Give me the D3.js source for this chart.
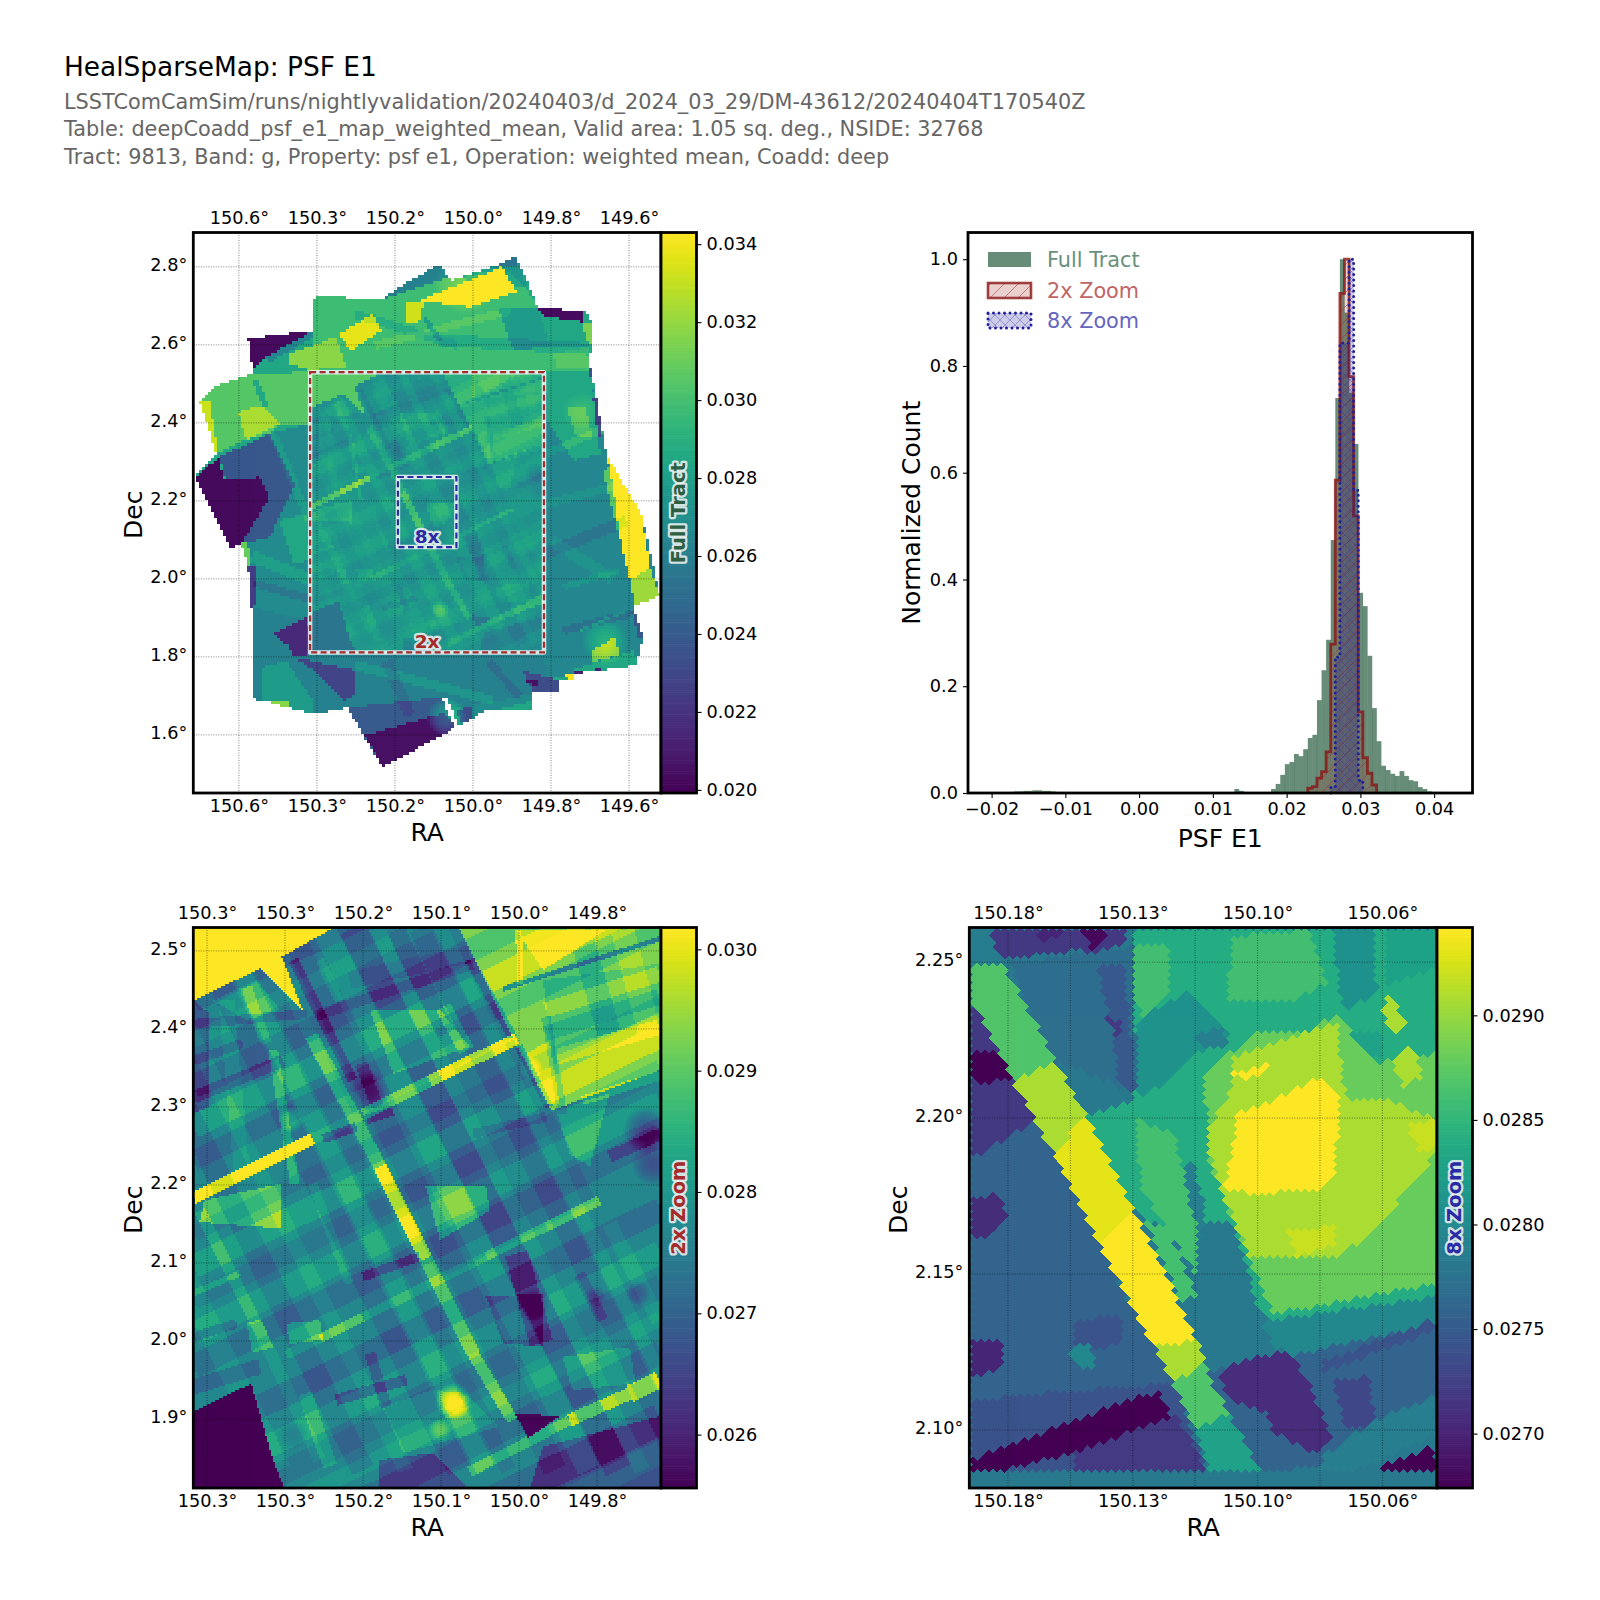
<!DOCTYPE html>
<html><head><meta charset="utf-8">
<script src="https://cdn.jsdelivr.net/npm/d3@7/dist/d3.min.js"></script>
<style>html,body{margin:0;background:#fff}svg{display:block}text{font-family:"DejaVu Sans",sans-serif}</style>
</head><body><svg id="fig" width="1600" height="1600"></svg>
<script>
// ---------- text ----------
const titleLines = ["HealSparseMap: PSF E1"];
const subtitleLines = [
 "LSSTComCamSim/runs/nightlyvalidation/20240403/d_2024_03_29/DM-43612/20240404T170540Z",
 "Table: deepCoadd_psf_e1_map_weighted_mean, Valid area: 1.05 sq. deg., NSIDE: 32768",
 "Tract: 9813, Band: g, Property: psf e1, Operation: weighted mean, Coadd: deep"];
// ---------- axes values and printed labels ----------
const fullRaTicks=[150.6,150.4,150.2,150.0,149.8,149.6];
const fullRaLabels=["150.6°","150.3°","150.2°","150.0°","149.8°","149.6°"];
const fullDecTicks=[2.8,2.6,2.4,2.2,2.0,1.8,1.6];
const fullDecLabels=["2.8°","2.6°","2.4°","2.2°","2.0°","1.8°","1.6°"];
const zoomRaTicks=[150.4,150.3,150.2,150.1,150.0,149.9];
const zoomRaLabels=["150.3°","150.3°","150.2°","150.1°","150.0°","149.8°"];
const zoomDecTicks=[2.5,2.4,2.3,2.2,2.1,2.0,1.9];
const zoomDecLabels=["2.5°","2.4°","2.3°","2.2°","2.1°","2.0°","1.9°"];
const fineRaTicks=[150.18,150.14,150.10,150.06];
const fineRaLabels=["150.18°","150.13°","150.10°","150.06°"];
const fineRaGrid=[150.18,150.16,150.14,150.12,150.10,150.08,150.06];
const fineDecTicks=[2.25,2.20,2.15,2.10];
const fineDecLabels=["2.25°","2.20°","2.15°","2.10°"];
const fullCbTicks=[0.020,0.022,0.024,0.026,0.028,0.030,0.032,0.034];
const zoomCbTicks=[0.026,0.027,0.028,0.029,0.030];
const fineCbTicks=[0.0270,0.0275,0.0280,0.0285,0.0290];
const histXTicks=[-0.02,-0.01,0,0.01,0.02,0.03,0.04];
const histYTicks=[0,0.2,0.4,0.6,0.8,1.0];
// ---------- histogram ----------
const binWidth=0.000622, binAnchor=0.0266;
const tailFirstBin=-71;
const tailCounts=[.002,.003,.003,.004,.004,.005,.005,.004,.004,.003,.002,.002,.001];
const fullFirstBin=-22;
const fullCounts=[.0075,.004,.002,0,0,0,0,0,.0075,.017,.034,.054,.058,.073,.069,.082,.103,.109,.174,.230,.287,.474,.740,1.0,.90,.75,.654,.375,.35,.257,.159,.097,.051,.043,.036,.032,.041,.032,.024,.022,.011,.0075,.003,.002,.002,.001,.001];
const twoFirstBin=-6;
const twoCounts=[.009,.012,.028,.04,.077,.279,.586,.936,1.0,.78,.519,.152,.066,.037,.015];
const eightFirstBin=-1;
const eightCounts=[.012,.255,.843,.843,1.0,.567,.024];
const legendNames=["Full Tract","2x Zoom","8x Zoom"];
// ---------- sky map: outline of the coverage in (RA, Dec) ----------
const fullOutline=[150.576,2.617,150.409,2.638,150.405,2.728,150.290,2.72,150.226,2.72,150.196,2.745,150.084,2.809,150.063,2.775,150.050,2.767,149.939,2.805,149.892,2.826,149.879,2.809,149.832,2.694,149.717,2.690,149.691,2.66,149.700,2.553,149.683,2.467,149.657,2.322,149.589,2.202,149.567,2.168,149.520,1.959,149.589,1.929,149.563,1.852,149.580,1.779,149.742,1.758,149.742,1.742,149.781,1.742,149.781,1.708,149.845,1.708,149.845,1.668,149.965,1.664,150.025,1.63,150.042,1.621,150.230,1.518,150.281,1.6,150.320,1.671,150.409,1.655,150.538,1.689,150.563,1.694,150.567,1.929,150.576,2.031,150.593,2.091,150.619,2.078,150.713,2.262,150.657,2.322,150.700,2.455,150.657,2.497,150.563,2.527];
const fullBase=0.0285;
// [PSF E1, [ra,dec, ra,dec, ...]]
const fullTiles=[
[.0265,[150.529,2.570,150.409,2.638,150.409,2.621,150.525,2.553]],
[.0203,[150.576,2.617,150.409,2.638,150.529,2.570,150.565,2.536]],
[.0298,[150.405,2.728,150.290,2.72,150.226,2.72,150.409,2.638]],
[.0262,[150.226,2.72,150.196,2.745,150.084,2.809,150.063,2.775,150.161,2.728]],
[.0275,[150.050,2.767,149.939,2.805,149.892,2.826,149.879,2.809,149.862,2.749,149.926,2.801]],
[.0255,[149.939,2.805,149.892,2.826,149.879,2.809,149.909,2.801]],
[.0298,[150.409,2.638,150.226,2.72,150.063,2.775,149.862,2.749,149.832,2.694,149.802,2.596,149.700,2.596,149.700,2.532,150.418,2.532]],
[.0345,[150.136,2.715,149.926,2.801,149.888,2.737,150.007,2.698]],
[.0333,[150.170,2.707,150.127,2.715,150.131,2.664,150.170,2.655]],
[.0338,[150.341,2.630,150.255,2.681,150.234,2.638,150.315,2.584]],
[.0318,[150.469,2.579,150.350,2.621,150.324,2.544,150.418,2.536,150.469,2.553]],
[.0278,[149.935,2.698,149.832,2.694,149.802,2.596,149.896,2.587]],
[.0203,[149.832,2.694,149.717,2.690,149.717,2.66,149.811,2.673]],
[.0315,[149.717,2.66,149.691,2.66,149.695,2.604,149.712,2.621]],
[.0305,[149.794,2.579,149.700,2.596,149.700,2.544,149.785,2.544]],
[.0305,[150.657,2.497,150.563,2.527,150.418,2.532,150.418,2.399,150.495,2.399,150.520,2.373,150.589,2.356,150.661,2.322,150.696,2.455]],
[.0325,[150.602,2.429,150.542,2.446,150.495,2.399,150.580,2.356]],
[.0332,[150.700,2.455,150.674,2.459,150.653,2.326,150.661,2.322]],
[.0268,[150.520,2.373,150.418,2.399,150.418,1.894,150.567,1.929,150.576,2.031,150.593,2.091]],
[.0238,[150.649,2.314,150.520,2.373,150.456,2.245,150.520,2.108,150.589,2.091]],
[.0203,[150.713,2.262,150.649,2.314,150.640,2.254,150.546,2.262,150.520,2.211,150.593,2.091,150.619,2.078]],
[.0285,[150.495,2.151,150.426,2.168,150.418,2.048,150.460,2.040]],
[.0225,[150.576,2.031,150.555,2.031,150.555,1.937,150.567,1.929]],
[.0310,[150.593,2.091,150.576,2.100,150.572,2.048,150.576,2.031]],
[.0262,[150.567,1.929,150.418,1.894,150.418,1.809,150.320,1.671,150.409,1.655,150.538,1.689,150.563,1.694]],
[.0278,[150.538,1.775,150.478,1.792,150.409,1.689,150.409,1.655,150.538,1.689]],
[.0318,[150.533,1.689,150.473,1.689,150.473,1.674,150.522,1.674]],
[.0215,[150.508,1.860,150.422,1.903,150.418,1.809,150.456,1.800,150.469,1.826]],
[.0262,[150.418,1.811,149.811,1.811,149.811,1.742,149.845,1.668,149.965,1.664,150.042,1.621,150.076,1.698,150.320,1.671,150.409,1.766]],
[.0228,[150.456,1.800,150.298,1.766,150.298,1.706,150.332,1.689,150.409,1.766]],
[.0240,[150.320,1.671,150.076,1.698,150.042,1.621,150.230,1.518,150.281,1.6]],
[.0205,[150.277,1.6,150.076,1.657,150.042,1.621,150.230,1.518]],
[null,[150.080,1.696,150.065,1.696,150.035,1.621,150.046,1.621]],
[.0268,[150.042,1.668,149.845,1.707,149.845,1.668,149.965,1.664,150.025,1.63]],
[.0285,[149.948,1.664,149.845,1.689,149.845,1.668]],
[.0232,[150.042,1.664,149.999,1.677,150.007,1.638,150.025,1.63]],
[.0265,[149.815,2.532,149.700,2.532,149.657,2.322,149.589,2.202,149.567,2.168,149.520,1.959,149.589,1.929,149.563,1.852,149.580,1.779,149.742,1.758,149.811,1.742,149.815,1.811]],
[.0232,[149.871,1.766,149.781,1.742,149.781,1.708,149.845,1.708]],
[.0205,[149.871,1.736,149.828,1.745,149.837,1.728]],
[.0285,[149.815,2.532,149.696,2.532,149.683,2.408,149.674,2.322,149.742,2.305,149.811,2.408]],
[.0300,[149.759,2.442,149.712,2.442,149.691,2.365,149.734,2.365]],
[.0305,[149.665,2.271,149.648,2.297,149.606,2.117,149.623,2.108]],
[.0345,[149.657,2.322,149.589,2.202,149.567,2.168,149.546,2.031,149.597,1.997,149.623,2.108,149.640,2.237]],
[.0322,[149.597,1.997,149.546,2.031,149.520,1.959,149.584,1.929]],
[.0225,[149.691,2.467,149.678,2.467,149.670,2.339,149.683,2.399]],
[.0235,[149.704,2.553,149.693,2.553,149.698,2.519]],
[.0238,[149.593,1.92,149.584,1.929,149.563,1.852,149.576,1.852]],
[.0285,[149.738,1.771,149.584,1.818,149.580,1.779,149.742,1.758]],
[.0305,[149.691,1.818,149.631,1.856,149.627,1.805,149.691,1.788]],
[.0342,[149.772,1.751,149.742,1.758,149.742,1.742]],
[.0212,[149.742,1.762,149.674,1.771,149.674,1.765,149.742,1.756]]];
// [ra0,dec0, ra1,dec1, width (deg), change in PSF E1]
const fullBands=[
[150.123,2.668,150.084,2.613,.012,-.002],
[149.768,1.869,149.597,1.912,.02,-.0012],
[149.725,1.869,149.605,1.920,.006,.002],
[150.084,2.613,149.700,2.591,.03,-.001],
[150.300,2.680,150.040,2.600,.022,-.0009],
[150.250,2.600,149.900,2.690,.02,.0008],
[150.559,2.510,150.529,2.442,.015,-.002],
[150.512,2.373,150.418,2.151,.02,.001],
[150.567,2.060,150.418,2.000,.03,.0012],
[150.560,1.990,150.418,1.950,.02,-.0012],
[149.811,2.322,149.614,2.408,.02,.001],
[149.811,2.066,149.606,2.151,.03,-.001],
[149.811,2.194,149.640,2.237,.02,.0008],
[149.768,1.980,149.623,2.023,.015,.001],
[150.300,1.780,149.950,1.690,.024,.0012],
[150.220,1.790,150.160,1.650,.03,-.001],
[149.960,1.790,149.880,1.700,.02,-.0012],
[149.800,2.100,149.640,2.000,.03,.0008]];
const fullBlobs=[
[150.067,1.647,.05,.0035],[149.660,1.840,.06,.0025],[149.720,2.430,.05,.001],
[150.020,2.760,.08,.0015]];
// ---------- the 2x region ----------
const zoomBase=0.0277;
const zoomTiles=[
[.0293,[150.076,2.530,149.818,2.530,149.818,2.348,149.958,2.296,150.008,2.390]]];
const zoomFinalTiles=[
[.0306,[150.417,2.530,150.238,2.530,150.304,2.493,150.277,2.425,150.298,2.444,150.332,2.478,150.417,2.437]],
[.0255,[150.4176,1.910,150.343,1.946,150.315,1.848,150.300,1.811,150.4176,1.811]],
[.0256,[150.005,1.908,149.948,1.904,149.988,1.876]]];
const zoomPatches=[
[-.0002,[150.304,2.493,150.238,2.530,150.076,2.530,150.008,2.390,150.200,2.292,150.213,2.292]],
[-.0003,[150.200,2.292,150.003,2.388,149.958,2.296,149.901,2.181,150.101,2.080,150.170,2.224]],
[-.0004,[149.969,2.463,149.820,2.484,149.820,2.420,149.956,2.365]],
[.0008,[150.003,2.527,149.888,2.527,149.969,2.476]],
[.0006,[149.990,2.369,149.961,2.386,149.948,2.305,149.969,2.305]],
[.0007,[149.952,2.296,149.884,2.318,149.909,2.224,149.935,2.241]],
[.0009,[150.191,2.425,150.101,2.425,150.063,2.378,150.161,2.343]],
[.0012,[150.119,2.198,150.042,2.198,150.037,2.168,150.101,2.130]],
[.0012,[150.403,2.181,150.306,2.202,150.306,2.145,150.409,2.153]],
[.0005,[150.174,1.916,150.110,1.938,150.067,1.933,150.025,1.891,150.148,1.857]],
[-.0009,[150.042,2.057,149.969,2.062,149.969,1.993,150.020,1.998]],
[.0007,[149.944,1.980,149.858,1.993,149.850,1.946,149.931,1.938]],
[-.0010,[149.969,1.865,149.820,1.904,149.820,1.811,149.986,1.811]],
[-.0010,[150.178,1.848,150.110,1.857,150.063,1.811,150.178,1.811]],
[.0010,[150.298,2.023,150.255,2.027,150.251,2.002,150.294,1.997]],
[.0009,[150.349,2.025,150.330,2.027,150.315,1.993,150.341,1.985]],
[-.0008,[150.417,2.437,150.396,2.420,150.396,2.301,150.417,2.292]],
[.0006,[150.392,2.437,150.336,2.463,150.306,2.425,150.349,2.412]]];
const zoomBands=[
[150.266,2.392,150.178,2.224,.017,.0010],[150.178,2.224,150.119,2.106,.018,.0022],
[150.119,2.106,150.059,1.985,.017,.0012],[150.059,1.985,150.008,1.899,.015,.0014],
[150.289,2.489,150.213,2.335,.013,-.0009],[150.157,2.527,150.093,2.395,.024,-.0005],
[150.097,2.429,150.067,2.373,.02,.0009],[150.255,2.489,150.230,2.437,.012,.0005],
[150.063,2.489,150.008,2.390,.012,-.0008],[150.0,2.378,149.961,2.301,.01,-.0008],
[150.003,2.113,149.971,1.998,.03,-.0008],[149.922,2.087,149.892,2.027,.015,-.0006],
[150.191,1.985,150.170,1.916,.014,-.0007],[150.409,2.168,150.328,2.006,.014,.0006],
[150.328,2.006,150.255,1.848,.016,.0003],[150.315,2.373,150.287,2.202,.012,.0009],
[150.349,2.454,150.324,2.382,.014,.0005],[150.264,2.202,150.217,2.074,.012,.0004],
[150.274,1.933,150.242,1.840,.018,.0006],[150.0,2.527,149.998,2.459,.008,.0008],
[149.965,2.416,149.944,2.292,.012,-.0005],[149.884,2.151,149.820,2.027,.02,.0003],
[150.003,2.388,150.114,2.334,.015,.0024],[150.114,2.334,150.200,2.291,.015,.0014],
[150.200,2.291,150.264,2.260,.014,.0004],[150.264,2.260,150.340,2.222,.015,.0038],
[150.340,2.222,150.417,2.184,.015,.0026],
[149.897,2.181,149.965,2.147,.012,.0014],[149.965,2.147,150.042,2.109,.012,.0010],
[150.042,2.109,150.101,2.080,.012,.0005],[150.101,2.080,150.200,2.031,.012,.0006],
[150.200,2.031,150.255,2.004,.012,.0012],[150.255,2.004,150.298,1.983,.012,.0005],
[149.820,1.9505,149.858,1.933,.022,.0020],[149.858,1.933,149.935,1.899,.016,.0017],
[149.935,1.899,150.063,1.833,.013,.0010],
[150.259,2.418,150.059,2.484,.014,-.0005],[150.217,2.463,150.063,2.497,.022,-.0003],
[150.196,2.284,150.161,2.296,.012,-.0009],[150.251,2.260,150.208,2.275,.012,-.0011],
[150.059,2.266,149.965,2.288,.012,-.0005],[150.200,2.083,150.127,2.109,.012,-.0009],
[150.234,1.925,150.144,1.951,.014,-.0010],[150.417,2.006,150.362,2.023,.012,-.0007],
[150.417,1.942,150.332,1.968,.02,-.0006],[150.417,2.313,150.302,2.360,.016,-.0007],
[150.417,2.360,150.354,2.382,.012,-.0006],[150.417,2.407,150.272,2.420,.012,-.0006],
[150.417,2.062,150.358,2.087,.008,.0008],[150.020,2.452,149.820,2.516,.006,-.0014],
[149.884,2.237,149.818,2.266,.016,-.0008],[149.918,2.309,149.818,2.341,.012,.0008],
[150.202,2.356,150.181,2.301,.016,-.0006],
// broad steep overlaps
[150.648,2.530,150.307,1.835,.03,.0003],[150.541,2.530,150.200,1.835,.03,-.0004],
[150.486,2.530,150.145,1.835,.02,.0003],[150.418,2.530,150.077,1.835,.03,-.0004],
[150.383,2.530,150.042,1.835,.025,.0004],[150.354,2.530,150.013,1.835,.02,-.0003],
[150.294,2.530,149.953,1.835,.03,-.0003],[150.251,2.530,149.910,1.835,.03,.0004],
[150.213,2.530,149.872,1.835,.035,-.0005],[150.183,2.530,149.842,1.835,.02,.0003],
[150.127,2.530,149.786,1.835,.03,-.0004],[150.102,2.530,149.761,1.835,.02,.0003],
// broad shallow overlaps
[150.417,2.437,149.818,2.733,.03,-.0004],[150.417,2.386,149.818,2.682,.02,.0003],
[150.417,2.326,149.818,2.622,.03,-.0004],[150.417,2.275,149.818,2.571,.03,.0005],
[150.417,2.232,149.818,2.528,.025,-.0004],[150.417,2.138,149.818,2.434,.02,-.0003],
[150.417,2.096,149.818,2.392,.03,.0005],[150.417,2.053,149.818,2.349,.025,-.0003],
[150.417,2.010,149.818,2.306,.03,.0004],[150.417,1.968,149.818,2.264,.03,-.0004],
[150.417,1.874,149.818,2.170,.03,-.0005],[150.417,1.818,149.818,2.114,.03,.0004],
[150.417,1.775,149.818,2.071,.03,-.0003],[150.417,1.733,149.818,2.029,.02,.0003],
[150.417,1.690,149.818,1.986,.03,-.0004],[150.417,1.605,149.818,1.901,.04,-.0005],
[150.417,1.562,149.818,1.858,.03,.0003],
// right side, other pointing
[149.965,2.425,149.820,2.471,.02,.0005],[149.965,2.395,149.820,2.442,.02,-.0004],
[149.952,2.365,149.820,2.403,.02,.0005],[149.922,2.527,149.884,2.395,.03,-.0004],
[149.867,2.527,149.832,2.395,.03,.0003],[150.375,2.437,150.354,2.207,.02,.0003]];
// [ra,dec, radius (deg), peak change in PSF E1]
const zoomBlobs=[
[150.292,2.284,.016,.0012],[149.837,2.271,.03,-.0012],[149.828,2.228,.028,-.0010],
[150.191,2.322,.026,-.0009],[150.084,1.923,.024,.0020],[150.101,1.886,.016,.001],
[149.982,2.047,.022,-.0008],[149.847,2.062,.016,-.0008],[149.901,2.057,.014,-.0008],
[150.290,1.880,.02,-.0005],[149.985,2.350,.016,.0008]];
// ---------- the 8x region ----------
const fineBase=0.0278;
const fineTiles=[
[.0284,[150.1398,2.2608,150.0426,2.2608,150.0426,2.1428,150.0950,2.1331,150.1185,2.1684,150.1398,2.2058]],
[.0279,[150.1922,2.2608,150.1863,2.2608,150.1826,2.2496,150.1922,2.2496]],
[.0272,[150.1863,2.2608,150.1430,2.2608,150.1420,2.2560,150.1527,2.2528,150.1591,2.2539,150.1820,2.2507]],
[.0268,[150.1564,2.2602,150.1484,2.2602,150.1527,2.2528]],
[.0270,[150.1708,2.2602,150.1601,2.2602,150.1687,2.2560]],
[.0277,[150.1794,2.2496,150.1398,2.2550,150.1388,2.2079,150.1591,2.2165,150.1655,2.2175,150.1730,2.2336]],
[.0275,[150.1516,2.2496,150.1430,2.2496,150.1388,2.2079,150.1441,2.2101,150.1473,2.2325]],
[.0272,[150.1484,2.2325,150.1430,2.2304,150.1452,2.2261]],
[.0286,[150.1398,2.2549,150.1281,2.2549,150.1281,2.2411,150.1356,2.2314,150.1398,2.2378]],
[.0281,[150.1388,2.2314,150.1227,2.2400,150.1078,2.2272,150.1206,2.2197,150.1313,2.2101,150.1388,2.2069]],
[.0279,[150.1195,2.2272,150.1110,2.2293,150.1088,2.2229,150.1185,2.2218]],
[.0286,[150.1078,2.2581,150.0832,2.2603,150.0779,2.2432,150.0896,2.2378,150.1099,2.2378]],
[.0281,[150.0747,2.2603,150.0629,2.2603,150.0618,2.2400,150.0725,2.2346,150.0747,2.2485]],
[.0283,[150.0586,2.2608,150.0426,2.2608,150.0426,2.2485,150.0586,2.2432]],
[.0291,[150.0586,2.2410,150.0522,2.2304,150.0565,2.2272,150.0597,2.2336]],
[.0283,[150.0736,2.2282,150.0597,2.2272,150.0597,2.2197,150.0725,2.2186]],
[.0288,[150.1163,2.2154,150.1003,2.2272,150.0843,2.2272,150.0747,2.2336,150.0629,2.2176,150.0426,2.2207,150.0426,2.1470,150.0950,2.1374,150.1003,2.1492,150.1078,2.1673,150.1185,2.1930]],
[.0291,[150.0576,2.2186,150.0512,2.2240,150.0469,2.2133,150.0533,2.2101]],
[.0291,[150.1088,2.2197,150.0843,2.2272,150.0747,2.2304,150.0715,2.2058,150.0586,2.2058,150.0426,2.1994,150.0426,2.1887,150.0629,2.1631,150.0747,2.1556,150.1024,2.1556,150.1056,2.1631,150.1131,2.1802,150.1174,2.1941,150.1078,2.2101]],
[.0294,[150.1067,2.2015,150.0950,2.2058,150.0789,2.2133,150.0736,2.2058,150.0757,2.1823,150.0800,2.1769,150.0992,2.1759,150.1110,2.1769,150.1078,2.1908]],
[.0292,[150.0907,2.1641,150.0757,2.1652,150.0747,2.1599,150.0875,2.1556]],
[.0294,[150.1078,2.2143,150.0960,2.2175,150.1035,2.2111]],
[.0292,[150.0522,2.1983,150.0426,2.1994,150.0426,2.1908,150.0480,2.1887]],
[.0280,[150.1003,2.1342,150.0426,2.1428,150.0426,2.1331,150.0789,2.1203,150.0950,2.1267]],
[.0278,[150.1195,2.1673,150.1078,2.1663,150.0992,2.1374,150.0939,2.1246,150.1121,2.1203,150.1163,2.1235,150.1174,2.1353]],
[.0284,[150.1548,2.2005,150.1398,2.2058,150.1163,2.2037,150.1163,2.1741,150.1270,2.1631,150.1398,2.1705]],
[.0279,[150.1291,2.1834,150.1206,2.1855,150.1163,2.1684,150.1206,2.1570]],
[.0286,[150.1388,2.1994,150.1270,2.1951,150.1195,2.1641,150.1195,2.1492,150.1281,2.1631,150.1377,2.1791]],
[.0286,[150.1356,2.1663,150.1291,2.1652,150.1195,2.1428,150.1249,2.1417]],
[.0272,[150.1922,2.2389,150.1783,2.2122,150.1708,2.1994,150.1922,2.1866]],
[.0267,[150.1922,2.2207,150.1815,2.2218,150.1778,2.2133,150.1879,2.2111,150.1922,2.2143]],
[.0276,[150.1922,2.1866,150.1708,2.1994,150.1462,2.1502,150.1334,2.1267,150.1270,2.1150,150.1922,2.1096]],
[.0271,[150.1922,2.1737,150.1826,2.1759,150.1804,2.1673,150.1868,2.1620,150.1922,2.1620]],
[.0270,[150.1922,2.1289,150.1815,2.1289,150.1815,2.1203,150.1890,2.1171,150.1922,2.1171]],
[.0274,[150.1591,2.1353,150.1430,2.1364,150.1441,2.1278,150.1580,2.1246]],
[.0280,[150.1601,2.1257,150.1548,2.1278,150.1516,2.1203,150.1580,2.1203]],
[.0274,[150.1922,2.1096,150.1270,2.1150,150.1163,2.0872,150.1922,2.0872]],
[.0272,[150.1591,2.0925,150.1270,2.1054,150.1206,2.0958,150.1163,2.0872,150.1591,2.0872]],
[.0267,[150.1922,2.0904,150.1612,2.1021,150.1420,2.1096,150.1313,2.1118,150.1281,2.1043,150.1420,2.0990,150.1601,2.0925,150.1804,2.0872,150.1922,2.0872]],
[.0287,[150.1922,2.2485,150.1826,2.2496,150.1788,2.2443,150.1644,2.2175,150.1783,2.2122,150.1922,2.2389]],
[.0291,[150.1783,2.2122,150.1644,2.2175,150.1548,2.2005,150.1655,2.1887]],
[.0293,[150.1655,2.1887,150.1548,2.2005,150.1398,2.1705,150.1505,2.1588]],
[.02945,[150.1505,2.1588,150.1398,2.1705,150.1195,2.1289,150.1334,2.1267]],
[.0291,[150.1334,2.1267,150.1195,2.1289,150.1163,2.1214,150.1270,2.1150]],
[.0287,[150.1270,2.1150,150.1163,2.1214,150.1078,2.1064,150.1195,2.1000]],
[.0283,[150.1195,2.1000,150.1078,2.1064,150.0982,2.0872,150.1153,2.0872]],
[.0276,[150.1163,2.1182,150.0426,2.1342,150.0426,2.1096,150.0736,2.0883,150.0992,2.0872]],
[.0274,[150.0789,2.1219,150.0437,2.1353,150.0437,2.1321,150.0789,2.1182]],
[.0271,[150.1131,2.1171,150.1067,2.1214,150.0907,2.1257,150.0853,2.1182,150.0800,2.1064,150.0768,2.0968,150.0811,2.0925,150.0950,2.0990,150.0971,2.1054,150.1078,2.1096]],
[.0273,[150.0757,2.1161,150.0640,2.1171,150.0629,2.1021,150.0715,2.1000]],
[.0279,[150.0779,2.0925,150.0629,2.1032,150.0437,2.1107,150.0426,2.0990,150.0608,2.0904,150.0704,2.0872,150.0811,2.0872]],
[.0267,[150.0629,2.0872,150.0437,2.0947,150.0426,2.0872]]];
// ---------- sky extents of the panels ----------
const fullRa=[150.717,149.518], fullDec=[1.451,2.888];
const zoomRa=[150.4176,149.818], zoomDec=[1.8115,2.530];
const fineRa=[150.1924,150.0425], fineDec=[2.0814,2.2611];
const fullRange=[.01992,.0343], zoomRange=[.02556,.03018], fineRange=[.02674,.02942];

// ---------- helpers ----------
const svg=d3.select("#fig");
const defs=svg.append("defs");
const toPts=a=>d3.range(0,a.length,2).map(i=>[a[i],a[i+1]]);
function withBox(p){const xs=p.map(d=>d[0]),ys=p.map(d=>d[1]);return {p,x0:d3.min(xs),x1:d3.max(xs),y0:d3.min(ys),y1:d3.max(ys)};}
const inside=(s,x,y)=>x>=s.x0&&x<=s.x1&&y>=s.y0&&y<=s.y1&&d3.polygonContains(s.p,[x,y]);
const setLayer=l=>l.map(([v,a])=>({v,s:withBox(toPts(a))}));
function bandPoly([a0,b0,a1,b1,w]){const dx=a1-a0,dy=b1-b0,n=Math.hypot(dx,dy),ox=-dy/n*w/2,oy=dx/n*w/2;
  return withBox([[a0+ox,b0+oy],[a1+ox,b1+oy],[a1-ox,b1-oy],[a0-ox,b0-oy]]);}
const blobAdd=(blobs,r,c)=>{let v=0;for(const [a,b,rad,d] of blobs){const q=((r-a)**2+(c-b)**2)/(rad*rad); if(q<1) v+=d*(1-q);}return v;};
const outlineShape=withBox(toPts(fullOutline));
const fullSet=setLayer(fullTiles), fullDelta=fullBands.map(b=>({d:b[5],s:bandPoly(b)}));
const zoomSet=setLayer(zoomTiles), zoomFinal=setLayer(zoomFinalTiles);
const zoomDelta=[...zoomPatches.map(([d,a])=>({d,s:withBox(toPts(a))})),...zoomBands.map(b=>({d:b[5],s:bandPoly(b)}))];
const fineSet=setLayer(fineTiles);
function zoomValue(r,c){let v=zoomBase;
  for(const l of zoomSet) if(inside(l.s,r,c)) v=l.v;
  for(const l of zoomDelta) if(inside(l.s,r,c)) v+=l.d;
  v+=blobAdd(zoomBlobs,r,c);
  for(const l of zoomFinal) if(inside(l.s,r,c)) v=l.v;
  return v;}
function fullValue(r,c){
  if(r<=zoomRa[0]&&r>=zoomRa[1]&&c>=zoomDec[0]&&c<=zoomDec[1]) return zoomValue(r,c);
  if(!inside(outlineShape,r,c)) return null;
  let v=fullBase;
  for(const l of fullSet) if(inside(l.s,r,c)) v=l.v;
  if(v===null) return null;
  for(const l of fullDelta) if(inside(l.s,r,c)) v+=l.d;
  return v+blobAdd(fullBlobs,r,c);}
function fineValue(r,c){let v=fineBase; for(const l of fineSet) if(inside(l.s,r,c)) v=l.v; return v;}
const sharedColor=(range)=>d3.scaleSequential(d3.interpolateViridis).domain(range).clamp(true);
let uid=0;
function frame(g,x0,y0,w,h){g.append("rect").attr("x",x0).attr("y",y0).attr("width",w).attr("height",h).attr("fill","none").attr("stroke","#000").attr("stroke-width",2.8);}
function styleAxis(s,size){s.attr("font-size",null).attr("font-family",null);s.selectAll("text").attr("font-size",size).attr("fill","#000");s.select(".domain").remove();}
function mapPanel(o){
  const [L,T,W,H]=o.box, R=L+W, B=T+H;
  const x=d3.scaleLinear().domain(o.ra).range([L,R]), y=d3.scaleLinear().domain(o.dec).range([B,T]);
  const color=sharedColor(o.range);
  const g=svg.append("g"), id="clip"+(uid++);
  defs.append("clipPath").attr("id",id).append("rect").attr("x",L).attr("y",T).attr("width",W).attr("height",H);
  const buckets=new Map();
  const idx=v=>Math.round((Math.min(Math.max(v,o.range[0]),o.range[1])-o.range[0])/(o.range[1]-o.range[0])*(o.levels-1));
  const add=(k,s)=>{if(!buckets.has(k))buckets.set(k,[]);buckets.get(k).push(s);};
  if(o.diamond){
    const w=o.diamond,h=w/2+.3;
    for(let j=-1;T+j*w/2<B+w;j++) for(let i=-1;L+i*w<R+w;i++){
      const cx=L+(i+((j+2)%2)/2)*w, cy=T+j*w/2;
      add(idx(o.value(x.invert(cx),y.invert(cy))),`M${cx.toFixed(1)} ${(cy-h).toFixed(1)}l${h} ${h}l${-h} ${h}l${-h} ${-h}z`);
    }
  } else {
    const c=o.cell, nx=Math.ceil(W/c), ny=Math.ceil(H/c);
    const data=new Float64Array(nx*ny), mask=new Uint8Array(nx*ny);
    for(let j=0;j<ny;j++) for(let i=0;i<nx;i++){
      const v=o.value(x.invert(L+(i+.5)*c),y.invert(T+(j+.5)*c));
      if(v===null){data[j*nx+i]=o.fill;} else {data[j*nx+i]=v;mask[j*nx+i]=1;}
    }
    if(d3.blur2&&o.blur) d3.blur2({data,width:nx,height:ny},o.blur);
    for(let j=0;j<ny;j++){let run=null;
      for(let i=0;i<=nx;i++){
        const k=(i<nx&&mask[j*nx+i])?idx(data[j*nx+i]):-1;
        if(run&&run.k!==k){add(run.k,`M${(L+run.i*c).toFixed(1)} ${(T+j*c).toFixed(1)}h${(i-run.i)*c}v${c}h${-(i-run.i)*c}z`);run=null;}
        if(!run&&k>=0) run={k,i};
      }
    }
  }
  g.append("g").attr("clip-path",`url(#${id})`).selectAll("path").data([...buckets.entries()]).join("path")
    .attr("d",d=>d[1].join("")).attr("fill",d=>color(o.range[0]+d[0]/(o.levels-1)*(o.range[1]-o.range[0])))
    .attr("shape-rendering","crispEdges");
  // grid
  const gg=g.append("g").attr("clip-path",`url(#${id})`).attr("stroke","#000").attr("stroke-width",.8).attr("stroke-dasharray","1,1.5").attr("opacity",.6);
  gg.selectAll(".v").data(o.raGrid||o.raTicks).join("line").attr("x1",d=>x(d)).attr("x2",d=>x(d)).attr("y1",T).attr("y2",B);
  gg.selectAll(".h").data(o.decTicks).join("line").attr("y1",d=>y(d)).attr("y2",d=>y(d)).attr("x1",L).attr("x2",R);
  // axes with printed labels
  const lab=a=>(d,i)=>a[i];
  g.append("g").attr("transform",`translate(0,${B})`).call(d3.axisBottom(x).tickValues(o.raTicks).tickFormat(lab(o.raLabels)).tickSize(0).tickPadding(6)).call(styleAxis,17.7);
  g.append("g").attr("transform",`translate(0,${T})`).call(d3.axisTop(x).tickValues(o.raTicks).tickFormat(lab(o.raLabels)).tickSize(0).tickPadding(9)).call(styleAxis,17.7);
  g.append("g").attr("transform",`translate(${L},-2)`).call(d3.axisLeft(y).tickValues(o.decTicks).tickFormat(lab(o.decLabels)).tickSize(0).tickPadding(6)).call(styleAxis,17.7);
  g.append("text").attr("x",(L+R)/2).attr("y",B+39).attr("text-anchor","middle").attr("dominant-baseline","central").attr("font-size",25).text("RA");
  g.append("text").attr("transform",`translate(${L-o.decGap},${(T+B)/2+o.decShift}) rotate(-90)`).attr("text-anchor","middle").attr("dominant-baseline","central").attr("font-size",25).text("Dec");
  frame(g,L,T,W,H);
  // colour bar
  const cbL=R, cbW=35.5, cy=d3.scaleLinear().domain(o.range).range([B,T]);
  const cb=g.append("g");
  cb.selectAll("rect").data(d3.range(256)).join("rect").attr("x",cbL).attr("width",cbW)
    .attr("y",d=>T+(255-d)/256*H).attr("height",H/256+.6).attr("fill",d=>d3.interpolateViridis(d/255));
  g.append("g").attr("transform",`translate(${cbL+cbW},0)`).call(d3.axisRight(cy).tickValues(o.cbTicks).tickFormat(d3.format(o.cbFormat)).tickSize(5).tickPadding(5)).call(styleAxis,17.7)
    .call(s=>s.selectAll("line").attr("stroke-width",1.1));
  frame(g,cbL,T,cbW,H);
  g.append("text").attr("transform",`translate(${cbL+cbW/2},${T+H*o.labelPos}) rotate(-90)`).attr("text-anchor","middle").attr("dominant-baseline","central")
    .attr("font-size",19.5).attr("font-weight","bold").attr("fill",o.labelColor).attr("stroke","rgba(235,240,240,.9)").attr("stroke-width",4.5).attr("stroke-linejoin","round").attr("paint-order","stroke").text(o.label);
  return {x,y,g};
}
// ---------- figure text ----------
svg.append("text").attr("x",64).attr("y",76).attr("font-size",26.4).text(titleLines[0]);
svg.selectAll(".sub").data(subtitleLines).join("text").attr("x",64).attr("y",(d,i)=>109+i*27.4).attr("font-size",20.8).attr("fill","#666").text(d=>d);
// ---------- panels ----------
const p1=mapPanel({box:[193.3,232.5,467.7,560.5],ra:fullRa,dec:fullDec,range:fullRange,value:fullValue,cell:3,blur:0,fill:fullBase,levels:256,decGap:60,decShift:2,raTicks:fullRaTicks,raLabels:fullRaLabels,decTicks:fullDecTicks,decLabels:fullDecLabels,cbTicks:fullCbTicks,cbFormat:".3f",label:"Full Tract",labelColor:"#2d5f43",labelPos:.5});
const p3=mapPanel({box:[193.3,927.5,467.7,560.5],ra:zoomRa,dec:zoomDec,range:zoomRange,value:zoomValue,cell:2,blur:0,fill:zoomBase,levels:256,decGap:60,decShift:2,raTicks:zoomRaTicks,raLabels:zoomRaLabels,decTicks:zoomDecTicks,decLabels:zoomDecLabels,cbTicks:zoomCbTicks,cbFormat:".3f",label:"2x Zoom",labelColor:"#a52a2a",labelPos:.5});
const p4=mapPanel({box:[969.3,927.5,467.7,560.5],ra:fineRa,dec:fineDec,range:fineRange,value:fineValue,diamond:7.9,levels:48,decGap:71,decShift:2,raTicks:fineRaTicks,raLabels:fineRaLabels,raGrid:fineRaGrid,decTicks:fineDecTicks,decLabels:fineDecLabels,cbTicks:fineCbTicks,cbFormat:".4f",label:"8x Zoom",labelColor:"#2a2aa5",labelPos:.5});
// zoom boxes on the full panel
function zoomBox(ra,dec,color,text){
  const X=p1.x,Y=p1.y,x0=X(ra[0]),x1=X(ra[1]),y0=Y(dec[1]),y1=Y(dec[0]);
  const g=p1.g.append("g");
  g.append("rect").attr("x",x0).attr("y",y0).attr("width",x1-x0).attr("height",y1-y0).attr("fill","none").attr("stroke","#fff").attr("stroke-opacity",.8).attr("stroke-width",4.5).attr("stroke-linejoin","round");
  g.append("rect").attr("x",x0).attr("y",y0).attr("width",x1-x0).attr("height",y1-y0).attr("fill","none").attr("stroke",color).attr("stroke-width",2.2).attr("stroke-dasharray","6,3.5");
  g.append("text").attr("x",(x0+x1)/2).attr("y",y1-4).attr("text-anchor","middle").attr("font-size",18.5).attr("font-weight","bold").attr("fill",color).attr("stroke","rgba(235,240,240,.9)").attr("stroke-width",4.5).attr("stroke-linejoin","round").attr("paint-order","stroke").text(text);
}
zoomBox(zoomRa,zoomDec,"#a52a2a","2x");
zoomBox(fineRa,fineDec,"#2a2aa5","8x");
// ---------- histogram ----------
(function(){
  const L=968,R=1472.5,T=232.5,B=793;
  const x=d3.scaleLinear().domain([-0.0232,0.0452]).range([L,R]), y=d3.scaleLinear().domain([0,1.05]).range([B,T]);
  const g=svg.append("g");
  const mk=(defId,size,paths,color,op)=>{const pat=defs.append("pattern").attr("id",defId).attr("patternUnits","userSpaceOnUse").attr("width",size).attr("height",size);
    paths.forEach(d=>pat.append("path").attr("d",d).attr("stroke",color).attr("stroke-width",1).attr("stroke-opacity",op).attr("fill","none"));};
  mk("hatchRed",14,["M-3 3L3 -3","M0 14L14 0","M11 17L17 11"],"#a52a2a",.5);
  mk("hatchBlue",10,["M0 0L10 10","M0 10L10 0"],"#3030b0",.35);
  const edge=(i)=>binAnchor+i*binWidth;
  const bars=[...tailCounts.map((c,i)=>({i:tailFirstBin+i,c})),...fullCounts.map((c,i)=>({i:fullFirstBin+i,c}))];
  g.selectAll(".full").data(bars).join("rect").attr("x",d=>x(edge(d.i))).attr("width",d=>x(edge(d.i+1))-x(edge(d.i))+.2)
    .attr("y",d=>y(d.c)).attr("height",d=>B-y(d.c)).attr("fill","#2d5f43").attr("fill-opacity",.72);
  const stepLine=(first,counts)=>{const p=[[edge(first),0]];counts.forEach((c,i)=>{p.push([edge(first+i),c],[edge(first+i+1),c]);});p.push([edge(first+counts.length),0]);return p;};
  const line=d3.line().x(d=>x(d[0])).y(d=>y(d[1]));
  const step=(first,counts,fill,op,hatch,stroke,w,dash)=>{
    const d=line(stepLine(first,counts));
    g.append("path").attr("d",d).attr("fill",fill).attr("fill-opacity",op);
    g.append("path").attr("d",d).attr("fill",`url(#${hatch})`);
    const s=g.append("path").attr("d",d).attr("fill","none").attr("stroke",stroke).attr("stroke-width",w).attr("stroke-linejoin","miter");
    if(dash) s.attr("stroke-dasharray",dash).attr("stroke-linecap","round"); else s.attr("stroke-opacity",.8);
  };
  step(twoFirstBin,twoCounts,"#a52a2a",.2,"hatchRed","#8b1414",2.8);
  step(eightFirstBin,eightCounts,"#00008b",.2,"hatchBlue","#20209a",3,"0,5.5");
  const xa=g.append("g").attr("transform",`translate(0,${B})`).call(d3.axisBottom(x).tickValues(histXTicks).tickFormat(d3.format(".2f")).tickSize(5).tickPadding(4)).call(styleAxis,17.7);
  xa.selectAll("line").attr("stroke-width",1.1);
  const ya=g.append("g").attr("transform",`translate(${L},0)`).call(d3.axisLeft(y).tickValues(histYTicks).tickFormat(d3.format(".1f")).tickSize(5).tickPadding(5)).call(styleAxis,17.7);
  ya.selectAll("line").attr("stroke-width",1.1);
  g.append("text").attr("x",(L+R)/2).attr("y",838).attr("text-anchor","middle").attr("dominant-baseline","central").attr("font-size",25).text("PSF E1");
  g.append("text").attr("transform",`translate(911,${(T+B)/2}) rotate(-90)`).attr("text-anchor","middle").attr("dominant-baseline","central").attr("font-size",25).text("Normalized Count");
  frame(g,L,T,R-L,B-T);
  // legend
  const lx=988,lw=43,ys=[252,283,313],lh=15;
  const leg=g.append("g");
  leg.append("rect").attr("x",lx).attr("y",ys[0]).attr("width",lw).attr("height",lh).attr("fill","#2d5f43").attr("fill-opacity",.72);
  leg.append("rect").attr("x",lx).attr("y",ys[1]).attr("width",lw).attr("height",lh).attr("fill","#a52a2a").attr("fill-opacity",.22);
  leg.append("rect").attr("x",lx).attr("y",ys[1]).attr("width",lw).attr("height",lh).attr("fill","url(#hatchRed)").attr("stroke","#8b1414").attr("stroke-opacity",.8).attr("stroke-width",2.6);
  leg.append("rect").attr("x",lx).attr("y",ys[2]).attr("width",lw).attr("height",lh).attr("fill","#00008b").attr("fill-opacity",.2);
  leg.append("rect").attr("x",lx).attr("y",ys[2]).attr("width",lw).attr("height",lh).attr("fill","url(#hatchBlue)").attr("stroke","#20209a").attr("stroke-width",3).attr("stroke-dasharray","0,5.5").attr("stroke-linecap","round");
  const cols=["#6a8f7b","#c06565","#6565c0"];
  leg.selectAll("text").data(legendNames).join("text").attr("x",1047).attr("y",(d,i)=>ys[i]+lh/2).attr("dominant-baseline","central").attr("font-size",20.8).attr("fill",(d,i)=>cols[i]).text(d=>d);
})();
</script></body></html>
